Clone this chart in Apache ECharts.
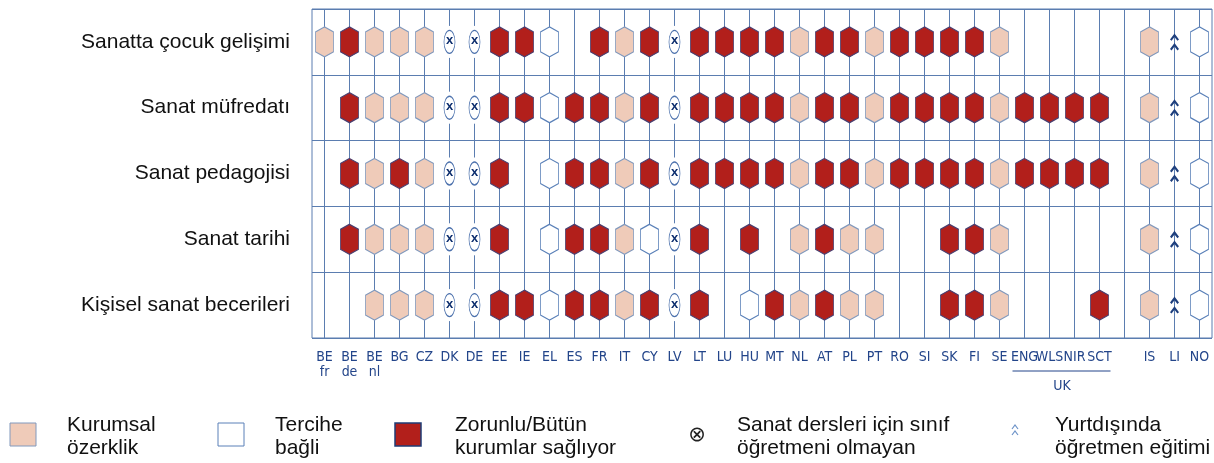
<!DOCTYPE html>
<html>
<head>
<meta charset="utf-8">
<script src="https://cdn.jsdelivr.net/npm/echarts@6/dist/echarts.min.js"></script>
<style>html,body{margin:0;padding:0;background:#fff}#c{width:1214px;height:463px}</style>
</head>
<body>
<div id="c"></div>
<script>
// Categories
const countries = ['BE fr','BE de','BE nl','BG','CZ','DK','DE','EE','IE','EL','ES','FR','IT','CY','LV','LT','LU','HU','MT','NL','AT','PL','PT','RO','SI','SK','FI','SE','ENG','WLS','NIR','SCT',' ','IS','LI','NO'];
const rows = ['Sanatta çocuk gelişimi','Sanat müfredatı','Sanat pedagojisi','Sanat tarihi','Kişisel sanat becerileri'];
// Codes: P = Kurumsal özerklik, W = Tercihe bağli, R = Zorunlu, X = sınıf öğretmeni olmayan, A = yurtdışında eğitim, - = none
const rowChild   = ['P','R','P','P','P','X','X','R','R','W','-','R','P','R','X','R','R','R','R','P','R','R','P','R','R','R','R','P','-','-','-','-','-','P','A','W'];
const rowCurric  = ['-','R','P','P','P','X','X','R','R','W','R','R','P','R','X','R','R','R','R','P','R','R','P','R','R','R','R','P','R','R','R','R','-','P','A','W'];
const rowPedag   = ['-','R','P','R','P','X','X','R','-','W','R','R','P','R','X','R','R','R','R','P','R','R','P','R','R','R','R','P','R','R','R','R','-','P','A','W'];
const rowHistory = ['-','R','P','P','P','X','X','R','-','W','R','R','P','W','X','R','-','R','-','P','R','P','P','-','-','R','R','P','-','-','-','-','-','P','A','W'];
const rowSkills  = ['-','-','P','P','P','X','X','R','R','W','R','R','P','R','X','R','-','W','R','P','R','P','P','-','-','R','R','P','-','-','-','R','-','P','A','W'];
const rowCodes = [rowChild, rowCurric, rowPedag, rowHistory, rowSkills];
const legendLabels = ['Kurumsal\nözerklik','Tercihe\nbağli','Zorunlu/Bütün\nkurumlar sağlıyor','Sanat dersleri için sınıf\nöğretmeni olmayan','Yurtdışında\nöğretmen eğitimi'];

function pick(code){
  const out=[];
  rowCodes.forEach((arr,ri)=>arr.forEach((c,ci)=>{ if(c===code) out.push([countries[ci], rows[ri]]); }));
  return out;
}
const HEX='path://M9,0 L18,5 L18,25 L9,30 L0,25 L0,5 Z';
const CHEV='path://M4,0 L8,5 L6.6,6.2 L4,3 L1.4,6.2 L0,5 Z M4,8 L8,13 L6.6,14.2 L4,11 L1.4,14.2 L0,13 Z';
const LINE='#5b7db0';
const NAVY='#23458a';
const NARROW="'DejaVu Sans Condensed','Liberation Sans Narrow','Roboto Condensed','Liberation Sans',sans-serif";

const chart = echarts.init(document.getElementById('c'), null, {renderer:'canvas'});
const option = {
  animation:false,
  grid:{left:312,right:2,top:9,bottom:125,show:true,borderColor:LINE,borderWidth:1},
  xAxis:{type:'category',data:countries,position:'bottom',
    axisLine:{show:false},
    axisTick:{show:true,inside:true,length:329,alignWithLabel:true,interval:0,lineStyle:{color:LINE,width:1}},
    splitLine:{show:false},
    axisLabel:{interval:0,formatter:v=>v.replace(' ','\n'),fontFamily:NARROW,fontSize:14,lineHeight:15,color:NAVY,margin:12}
  },
  yAxis:{type:'category',data:rows,inverse:true,
    axisLine:{show:false},axisTick:{show:false},
    splitLine:{show:true,interval:0,lineStyle:{color:LINE,width:1}},
    axisLabel:{fontFamily:'Liberation Sans',fontSize:21,color:'#111',margin:22}
  },
  series:[
    {name:'Kurumsal özerklik',type:'scatter',z:3,silent:true,symbol:HEX,symbolSize:[18,30],
     itemStyle:{color:'#EFCBB9',borderColor:'#8199bd',borderWidth:1,opacity:1},data:pick('P')},
    {name:'Tercihe bağli',type:'scatter',z:3,silent:true,symbol:HEX,symbolSize:[18,30],
     itemStyle:{color:'#ffffff',borderColor:'#5a80b8',borderWidth:1,opacity:1},data:pick('W')},
    {name:'Zorunlu',type:'scatter',z:3,silent:true,symbol:HEX,symbolSize:[18,30],
     itemStyle:{color:'#B21F1B',borderColor:'#4a3f70',borderWidth:1,opacity:1},data:pick('R')},
    {name:'gap',type:'scatter',z:3,silent:true,symbol:'rect',symbolSize:[6,32],
     itemStyle:{color:'#ffffff',opacity:1},data:pick('X')},
    {name:'Sınıf öğretmeni olmayan',type:'scatter',z:4,silent:true,symbol:'circle',symbolSize:[11,23],
     itemStyle:{color:'#ffffff',borderColor:'#4d72ad',borderWidth:1,opacity:1},
     label:{show:true,position:'inside',formatter:'x',fontFamily:'Liberation Sans',fontWeight:'bold',fontSize:13,color:'#0d2e6e',offset:[0,-1]},
     data:pick('X')},
    {name:'Yurtdışında',type:'scatter',z:4,silent:true,symbol:CHEV,symbolSize:[9,17],
     itemStyle:{color:'#1e3f7d',opacity:1},data:pick('A')}
  ]
};
chart.setOption(option);

// UK bracket and legend
const xENG = chart.convertToPixel({xAxisIndex:0},'ENG');
const xSCT = chart.convertToPixel({xAxisIndex:0},'SCT');
const gy = 371;
const sqY = 423;
const tY = 414;
const tStyle = {fontFamily:'Liberation Sans',fontSize:21,fill:'#111',lineHeight:23,textVerticalAlign:'top'};
function txt(x,i){ return {type:'text',x:x,y:tY,style:Object.assign({text:legendLabels[i]},tStyle)}; }
const caret = (cx,cy)=>({type:'polyline',shape:{points:[[cx-3,cy+4],[cx,cy],[cx+3,cy+4]]},style:{stroke:'#6d93c8',lineWidth:1.2,fill:null}});
chart.setOption({graphic:[
  {type:'line',shape:{x1:xENG-12,y1:gy,x2:xSCT+11,y2:gy},style:{stroke:NAVY,lineWidth:1}},
  {type:'text',x:(xENG+xSCT)/2,y:gy+15,style:{text:'UK',fontFamily:NARROW,fontSize:14,fill:NAVY,textAlign:'center',textVerticalAlign:'middle'}},
  {type:'rect',shape:{x:10,y:sqY,width:26,height:23},style:{fill:'#EFCBB9',stroke:'#8199bd',lineWidth:1}},
  txt(67,0),
  {type:'rect',shape:{x:218,y:sqY,width:26,height:23},style:{fill:'#ffffff',stroke:'#5a80b8',lineWidth:1}},
  txt(275,1),
  {type:'rect',shape:{x:395,y:sqY,width:26,height:23},style:{fill:'#B21F1B',stroke:'#1f3c75',lineWidth:1.5}},
  txt(455,2),
  {type:'text',x:697,y:436,style:{text:'⊗',fontFamily:'DejaVu Sans',fontSize:21,fill:'#222',textAlign:'center',textVerticalAlign:'middle'}},
  txt(737,3),
  caret(1015,425), caret(1015,431),
  txt(1055,4)
]});
</script>
</body>
</html>
